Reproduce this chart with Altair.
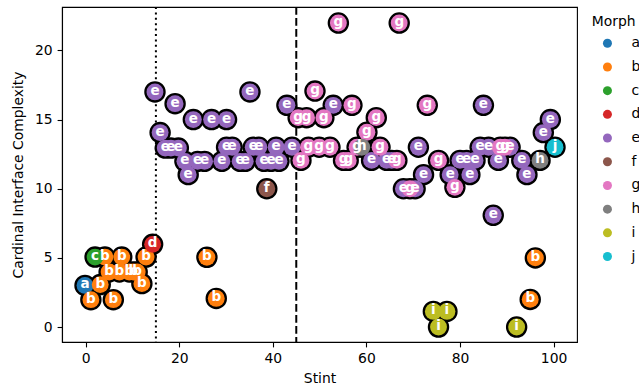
import altair as alt
import pandas as pd

# Morph categories and their colours
morphs = ["a", "b", "c", "d", "e", "f", "g", "h", "i", "j"]
palette = ["#1f77b4", "#ff7f0e", "#2ca02c", "#d62728", "#9467bd",
           "#8c564b", "#e377c2", "#7f7f7f", "#bcbd22", "#17becf"]

# Observations per morph: stint and (jittered) cardinal interface complexity
stint_a = [-0.15]
cplx_a = [3.01]

stint_b = [4.1, 7.7, 12.9, 5.0, 7.2, 9.3, 10.2, 11.0, 12.0, 3.1, 1.1, 5.9, 25.9, 27.9, 96.1, 95.0]
cplx_b = [5.06, 5.06, 5.06, 3.98, 3.98, 3.98, 3.98, 3.98, 3.14, 3.07, 1.98, 1.98, 5.04, 2.07, 5.0, 2.0]

stint_c = [2.0]
cplx_c = [5.06]

stint_d = [14.3]
cplx_d = [5.98]

stint_e = [14.8, 19.1, 23.0, 26.9, 30.1, 35.1, 15.9, 17.0, 18.2, 19.8,
           30.1, 31.3, 35.8, 37.0, 40.7, 44.1, 21.2, 23.9, 25.4, 29.1,
           33.0, 34.1, 38.1, 39.6, 41.3, 21.9, 43.0, 52.9, 61.1, 64.3,
           65.4, 71.1, 72.2, 67.9, 70.4, 80.0, 81.4, 83.2, 77.9, 82.1,
           85.0, 84.3, 86.1, 90.7, 88.2, 93.2, 94.3, 97.8, 99.3, 87.1]
cplx_e = [17.0, 16.15, 15.0, 15.0, 15.0, 17.0, 14.06, 12.94, 12.94, 12.94,
          13.0, 13.0, 13.0, 13.0, 13.0, 13.0, 11.98, 11.98, 11.98, 11.98,
          11.98, 11.98, 11.98, 11.98, 11.98, 11.02, 16.03, 16.03, 12.05, 12.05,
          12.05, 13.0, 11.02, 10.0, 10.0, 12.05, 12.05, 12.05, 11.02, 11.02,
          16.03, 13.0, 13.0, 13.0, 12.05, 12.05, 11.02, 14.06, 15.0, 8.08]

stint_f = [38.7]
cplx_f = [10.0]

stint_g = [54.0, 67.0, 49.0, 45.4, 47.2, 50.9, 56.9, 73.0, 62.1, 60.1, 47.6, 49.9,
           52.2, 58.0, 62.9, 46.0, 55.1, 56.1, 66.5, 69.3, 75.4, 78.9, 88.6, 89.6]
cplx_g = [21.98, 21.98, 17.06, 15.14, 15.14, 15.14, 16.03, 16.03, 15.14, 14.08, 13.0, 13.0,
          13.0, 13.0, 13.0, 12.05, 12.05, 12.05, 12.05, 10.0, 12.05, 10.1, 13.0, 13.0]

stint_h = [59.0, 97.1]
cplx_h = [13.0, 12.05]

stint_i = [74.3, 77.2, 75.4, 92.1]
cplx_i = [1.13, 1.13, 0.0, 0.0]

stint_j = [100.3]
cplx_j = [13.0]

# Phase boundaries marked by vertical lines
phase_dotted = [15]
phase_dashed = [45]

series = [
    ("a", stint_a, cplx_a), ("b", stint_b, cplx_b), ("c", stint_c, cplx_c),
    ("d", stint_d, cplx_d), ("e", stint_e, cplx_e), ("f", stint_f, cplx_f),
    ("g", stint_g, cplx_g), ("h", stint_h, cplx_h), ("i", stint_i, cplx_i),
    ("j", stint_j, cplx_j),
]
rows = []
for m, xs, ys in series:
    for x, y in zip(xs, ys):
        rows.append({"stint": x, "complexity": y, "morph": m})
df = pd.DataFrame(rows)

FONT = "DejaVu Sans"

x_enc = alt.X(
    "stint:Q",
    scale=alt.Scale(domain=[-5.07, 105.0], nice=False, zero=False),
    axis=alt.Axis(values=[0, 20, 40, 60, 80, 100], title="Stint", titlePadding=6),
)
y_enc = alt.Y(
    "complexity:Q",
    scale=alt.Scale(domain=[-1.08, 23.14], nice=False, zero=False),
    axis=alt.Axis(values=[0, 5, 10, 15, 20], title="Cardinal Interface Complexity",
                  titlePadding=9),
)

base = alt.Chart(df).encode(x=x_enc, y=y_enc)

# black halo under every marker, so touching markers share one outline
outline = base.mark_point(shape="circle", filled=True, size=460, color="black",
                          opacity=1, strokeWidth=0)
fill = base.mark_point(shape="circle", filled=True, size=285, opacity=1,
                       strokeWidth=0).encode(
    color=alt.Color(
        "morph:N",
        scale=alt.Scale(domain=morphs, range=palette),
        legend=alt.Legend(
            title=None, orient="none", legendX=538.5, legendY=29.3,
            symbolType="circle", symbolSize=81, symbolStrokeWidth=0,
            symbolOpacity=1, labelFont=FONT, labelFontSize=13.9,
            labelColor="black", labelOffset=17, rowPadding=8.7, padding=0,
        ),
    )
)
letters = base.mark_text(color="white", fontWeight="bold", fontSize=13.5, font=FONT,
                         align="center", baseline="middle", dy=-1).encode(text="morph:N")

dotted = alt.Chart(pd.DataFrame({"stint": phase_dotted})).mark_rule(
    color="black", strokeWidth=2, strokeDash=[2, 3.4]
).encode(x=x_enc)
dashed = alt.Chart(pd.DataFrame({"stint": phase_dashed})).mark_rule(
    color="black", strokeWidth=2, strokeDash=[7.7, 3.3]
).encode(x=x_enc)

legend_title = alt.Chart(pd.DataFrame({"label": ["Morph"]})).mark_text(
    align="left", baseline="alphabetic", font=FONT, fontSize=13.9, color="black"
).encode(x=alt.value(529.7), y=alt.value(19), text="label:N")

chart = (
    alt.layer(dotted, dashed, outline, fill, letters, legend_title)
    .properties(
        width=515, height=335,
        padding={"left": 62, "top": 7, "right": 62, "bottom": 50},
        autosize=alt.AutoSizeParams(type="none"),
        background="white",
    )
    .configure_view(stroke="black", strokeWidth=1.1)
    .configure_axis(
        grid=False, domainColor="black", domainWidth=1.1, tickColor="black",
        tickWidth=1.1, tickSize=4.9, labelPadding=4.9, labelColor="black",
        titleColor="black", labelFont=FONT, titleFont=FONT, labelFontSize=13.9,
        titleFontSize=13.9, titleFontWeight="normal",
    )
)

chart.save("out.html", embed_options={"renderer": "svg", "actions": False})
